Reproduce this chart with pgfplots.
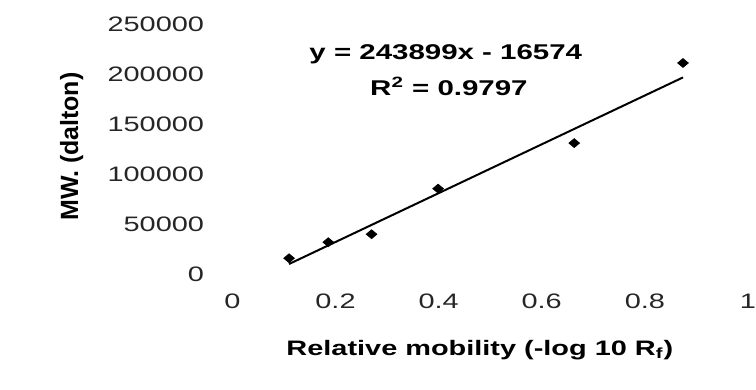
\documentclass[border=0pt]{standalone}
\usepackage{fontspec}
\setmainfont{Liberation Sans}[FakeStretch=1.38]
\newfontfamily\ylabfont{Liberation Sans}
\usepackage{pgfplots}
\pgfplotsset{compat=1.18}
\begin{document}
\begin{tikzpicture}
\begin{axis}[
  at={(0,0)}, anchor=south west,
  scale only axis, width=258.5pt, height=125.5pt,
  xmin=0, xmax=1, ymin=0, ymax=250000,
  axis line style={draw=none},
  major tick length=0pt,
  scaled x ticks=false, scaled y ticks=false,
  xtick={0,0.2,0.4,0.6,0.8,1},
  xticklabels={0,0.2,0.4,0.6,0.8,1},
  ytick={0,50000,100000,150000,200000,250000},
  yticklabels={0,50000,100000,150000,200000,250000},
  /pgf/number format/assume math mode=true,
  xticklabel style={font=\fontsize{10.5}{12}\selectfont, text=black!85, anchor=north, inner sep=0pt, yshift=-9.5pt},
  yticklabel style={font=\fontsize{10.5}{12}\selectfont, text=black!85, anchor=east, inner sep=0pt, xshift=-14pt},
  xlabel={\textbf{Relative mobility (-log 10 R\textsubscript{f})}},
  xlabel style={font=\fontsize{10.5}{12}\selectfont, at={(axis description cs:0.48,0)}, anchor=center, yshift=-38pt},
  clip=false,
]
\addplot[only marks, mark=diamond*, mark size=2.2pt, mark options={xscale=1.6, fill=black, draw=black}]
  coordinates {(0.110,16000) (0.186,32000) (0.270,40000) (0.399,85500) (0.663,131000) (0.874,211000)};
\addplot[black, line width=1pt] coordinates {(0.110,10255) (0.874,196593)};
\node[font=\fontsize{10.7}{12}\selectfont\bfseries, anchor=center] at (axis cs:0.414,220000) {y = 243899x - 16574};
\node[font=\fontsize{10.7}{12}\selectfont\bfseries, anchor=center] at (axis cs:0.42,188000) {R\textsuperscript{2} = 0.9797};
\path (axis description cs:0,0.51) ++(-80.5pt,0) node[rotate=90, anchor=center, font=\ylabfont\fontsize{12.5}{14}\selectfont\bfseries] {MW. (dalton)};
\end{axis}
\useasboundingbox (-116.5pt,-58pt) rectangle (261.5pt,137.5pt);
\end{tikzpicture}
\end{document}
